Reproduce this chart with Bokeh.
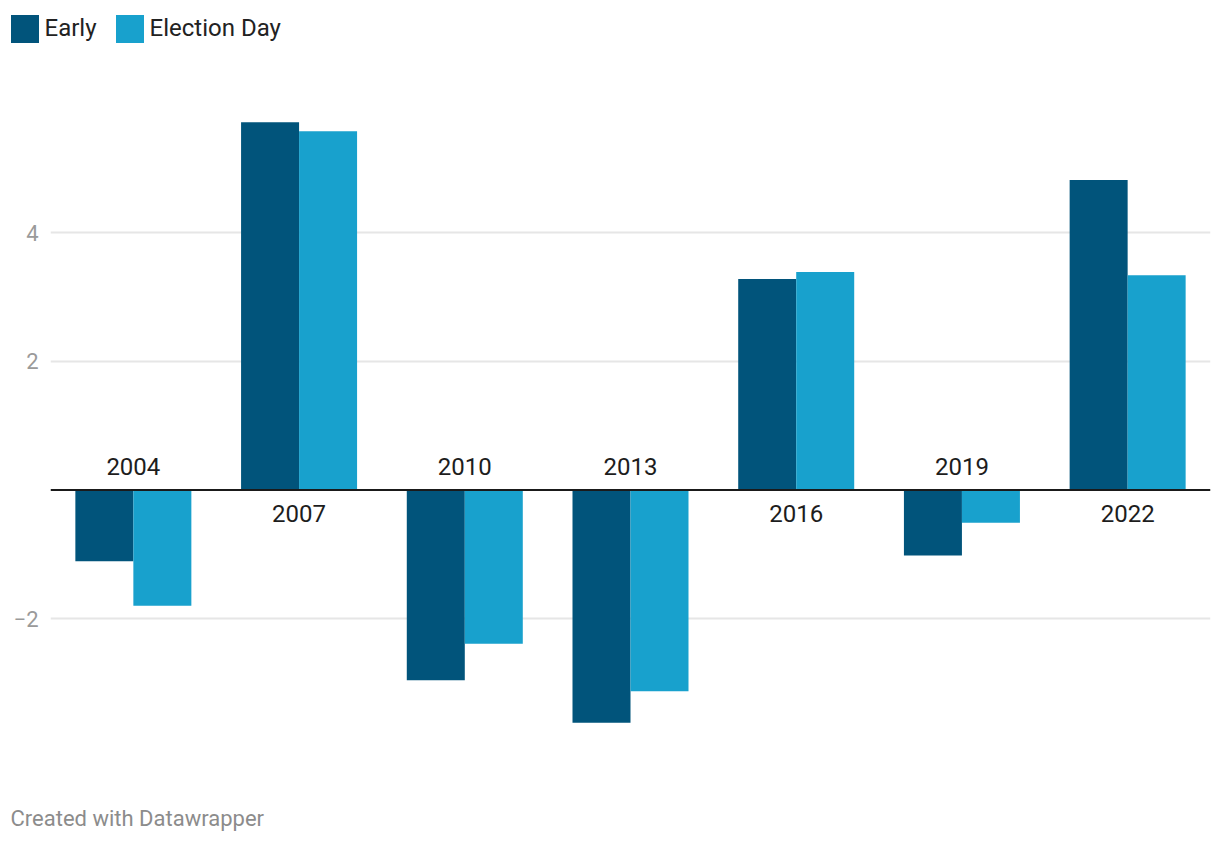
from bokeh.plotting import figure
from bokeh.layouts import column
from bokeh.models import (ColumnDataSource, FactorRange, Range1d, FixedTicker, Span,
                          Legend, LegendItem, Label)
from bokeh.transform import dodge
from bokeh.core.properties import value
from bokeh.embed import file_html
from bokeh.resources import INLINE

# ---- data ----
years = ["2004", "2007", "2010", "2013", "2016", "2019", "2022"]
early = [-1.11, 5.72, -2.96, -3.62, 3.28, -1.02, 4.82]
election_day = [-1.80, 5.58, -2.39, -3.13, 3.39, -0.51, 3.34]
y_ticks = [-2, 2, 4]
y_tick_labels = {-2: "\u22122", 2: "2", 4: "4"}
series_names = ["Early", "Election Day"]
credit = "Created with Datawrapper"

EARLY_C = "#01547b"
ED_C = "#18a1cd"
FONT = "Roboto"

label_offset = [(-23 if max(a, b) <= 0 else 24) for a, b in zip(early, election_day)]

src = ColumnDataSource(dict(year=years, early=early, ed=election_day,
                            zero=[0] * len(years), off=label_offset))


def strip(height, x_range):
    f = figure(width=1220, height=height, output_backend="svg", toolbar_location=None,
               x_range=x_range, y_range=Range1d(0, 1), min_border=0)
    f.frame_align = False
    f.outline_line_color = None
    f.axis.visible = False
    f.grid.visible = False
    return f


# ---- legend strip (renderers hidden, only the legend is shown) ----
lg = strip(70, FactorRange(*years))
lg_early = lg.vbar(x="year", top="early", width=0.35, source=src,
                   fill_color=EARLY_C, line_color=None, visible=False)
lg_ed = lg.vbar(x="year", top="ed", width=0.35, source=src,
                fill_color=ED_C, line_color=None, visible=False)
legend = Legend(items=[LegendItem(label=series_names[0], renderers=[lg_early]),
                       LegendItem(label=series_names[1], renderers=[lg_ed])],
                location=(6.5, 24.5), orientation="horizontal",
                glyph_width=35, glyph_height=35, label_standoff=3,
                spacing=15, padding=0, margin=0,
                label_text_font=FONT, label_text_font_size="24px",
                label_text_color="#222222", label_text_baseline="middle",
                inactive_fill_alpha=0, click_policy="none",
                border_line_color=None, background_fill_alpha=0)
lg.add_layout(legend, "center")

# ---- main chart ----
p = figure(width=1220, height=710, output_backend="svg", toolbar_location=None,
           x_range=FactorRange(*years, range_padding=0),
           y_range=Range1d(-4.518, 6.524),
           min_border_left=50, min_border_right=10, min_border_top=0, min_border_bottom=0)
p.frame_align = False
p.outline_line_color = None
p.background_fill_color = "white"
p.border_fill_color = "white"

r_early = p.vbar(x=dodge("year", -0.175, range=p.x_range), top="early", width=0.35,
                 source=src, fill_color=EARLY_C, line_color=None)
r_ed = p.vbar(x=dodge("year", 0.175, range=p.x_range), top="ed", width=0.35,
              source=src, fill_color=ED_C, line_color=None)

p.add_layout(Span(location=0, dimension="width", line_color="#1a1a1a", line_width=2))

p.text(x="year", y="zero", text="year", y_offset="off", source=src,
       text_align="center", text_baseline="middle", text_font=value(FONT),
       text_font_size="24px", text_color="#1d1d1d")

p.xaxis.visible = False
p.xgrid.visible = False

ya = p.yaxis[0]
ya.ticker = FixedTicker(ticks=y_ticks)
ya.major_label_overrides = y_tick_labels
ya.axis_line_color = None
ya.major_tick_line_color = None
ya.minor_tick_line_color = None
ya.major_tick_out = 0
ya.major_tick_in = 0
ya.major_label_standoff = 12
ya.major_label_text_font = FONT
ya.major_label_text_font_size = "22px"
ya.major_label_text_color = "#9a9a9a"

p.ygrid.ticker = FixedTicker(ticks=y_ticks)
p.ygrid.grid_line_color = "#e6e6e6"
p.ygrid.grid_line_width = 2

# ---- credit strip ----
cr = strip(64, Range1d(0, 1))
cr.add_layout(Label(x=10, y=26, x_units="screen", y_units="screen", text=credit,
                    text_font=FONT, text_font_size="22px", text_color="#8c8c8c",
                    text_baseline="middle", text_align="left"))

layout = column(lg, p, cr, spacing=0)
open("out.html", "w").write(file_html(layout, INLINE))
